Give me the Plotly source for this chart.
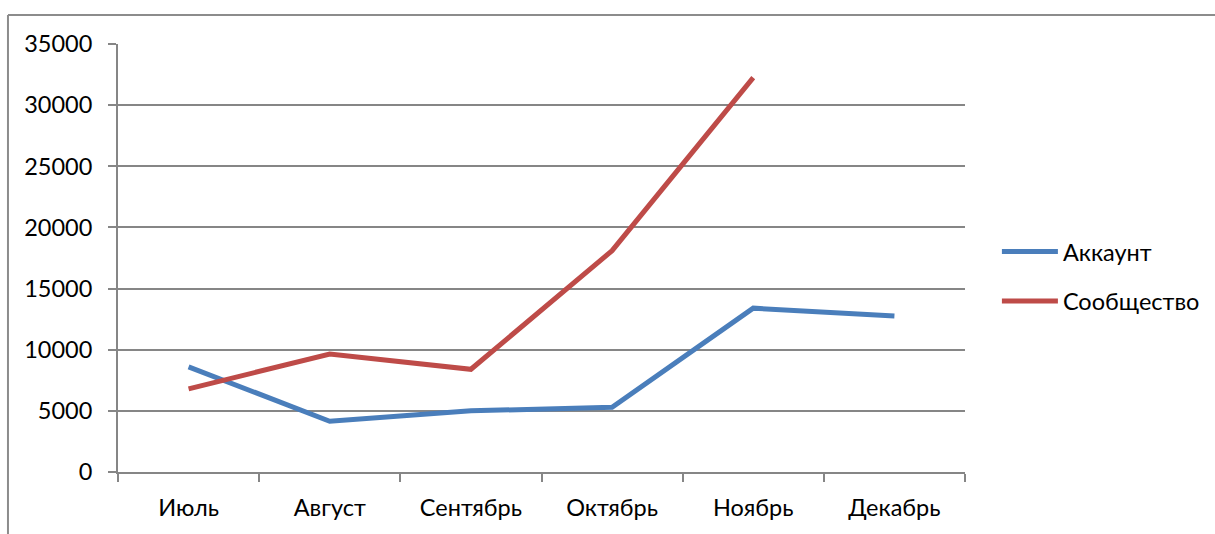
import plotly.graph_objects as go

months = ["Июль", "Август", "Сентябрь", "Октябрь", "Ноябрь", "Декабрь"]
akkaunt = [8600, 4150, 5000, 5300, 13400, 12750]
soobshchestvo = [6800, 9650, 8400, 18100, 32250, None]
y_ticks = [0, 5000, 10000, 15000, 20000, 25000, 30000, 35000]

FONT = "Lato"
FS = 23.5
fig = go.Figure()
fig.add_trace(go.Scatter(x=months, y=akkaunt, mode="lines", name="Аккаунт",
                         legendgroup="a",
                         line=dict(color="#4A7EBB", width=5)))
fig.add_trace(go.Scatter(x=months, y=soobshchestvo, mode="lines", name="Сообщество",
                         legendgroup="b",
                         line=dict(color="#BE4B48", width=5)))

fig.update_layout(
    width=1215, height=534,
    margin=dict(l=118, r=250, t=44, b=62, autoexpand=False),
    paper_bgcolor="white", plot_bgcolor="white",
    font=dict(family=FONT, size=FS, color="#000000"),
    showlegend=True,
    legend=dict(xref="container", yref="container", x=0.8205, y=0.482,
                xanchor="left", yanchor="middle",
                font=dict(size=FS), itemwidth=56, tracegroupgap=16,
                bgcolor="rgba(0,0,0,0)"),
    shapes=[
        dict(type="line", xref="paper", yref="paper",
             x0=-0.1299, x1=-0.1299, y0=-0.5, y1=1.0678,
             line=dict(color="#8C8C8C", width=2), layer="below"),
        dict(type="line", xref="paper", yref="paper",
             x0=-0.1299, x1=1.5, y0=1.0678, y1=1.0678,
             line=dict(color="#8C8C8C", width=2), layer="below"),
    ],
)
fig.update_xaxes(type="category", categoryorder="array", categoryarray=months,
                 range=[-0.5, 5.5], tickson="boundaries", ticks="outside",
                 ticklen=8, tickcolor="#868686", tickwidth=2,
                 showline=True, linecolor="#868686", linewidth=2,
                 showgrid=False, ticklabelstandoff=14)
fig.update_yaxes(range=[0, 35000], tickvals=y_ticks, ticktext=[str(v) for v in y_ticks],
                 ticks="outside", ticklen=8, tickcolor="#868686", tickwidth=2,
                 showline=True, linecolor="#868686", linewidth=2,
                 showgrid=True, gridcolor="#868686", gridwidth=2,
                 zeroline=False, ticklabelstandoff=11)

fig.write_html(
    "out.html",
    config={"responsive": False, "displayModeBar": False},
    post_script="document.documentElement.style.overflow='hidden';"
                "document.body.style.margin='0';document.body.style.overflow='hidden';",
)
